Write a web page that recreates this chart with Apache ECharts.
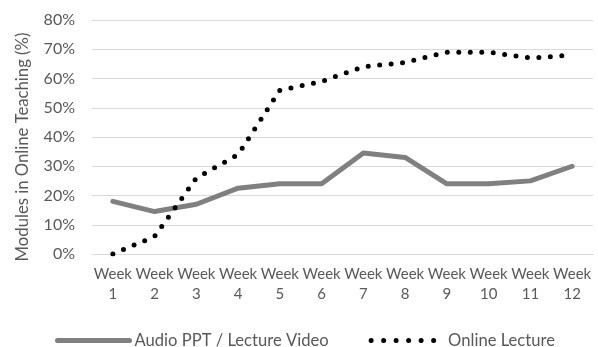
<!DOCTYPE html>
<html>
<head>
<meta charset="utf-8">
<script src="https://cdn.jsdelivr.net/npm/echarts@6/dist/echarts.min.js"></script>
<style>
  html, body { margin: 0; padding: 0; background: #fff; }
  #chart { width: 598px; height: 347px; }
</style>
</head>
<body>
<div id="chart"></div>
<script>
// weeks and percentages
const weeks = ['Week\n1', 'Week\n2', 'Week\n3', 'Week\n4', 'Week\n5', 'Week\n6',
  'Week\n7', 'Week\n8', 'Week\n9', 'Week\n10', 'Week\n11', 'Week\n12']
const audioVideo = [18, 14.5, 17, 22.5, 24, 24, 34.5, 33, 24, 24, 25, 30]
const onlineLecture = [0, 6, 26, 34, 56, 59, 64, 65.5, 69, 69, 67, 68]
const yTicks = [0, 10, 20, 30, 40, 50, 60, 70, 80]

const font = 'Lato'
const textColor = '#595959'
const solidStyle = { color: '#808080', width: 5, join: 'round', cap: 'round' }
const dottedStyle = { color: '#000', width: 5, type: [0, 11.5], cap: 'round' }

const chart = echarts.init(document.getElementById('chart'))
chart.setOption({
  animation: false,
  backgroundColor: '#fff',
  grid: {
    left: 92,
    right: 5,
    top: 20,
    bottom: 93
  },
  // axis title, placed by hand because it sits a little below the grid centre
  graphic: [{
    type: 'text',
    x: 23,
    y: 147,
    rotation: Math.PI / 2,
    style: {
      text: 'Modules in Online Teaching (%)',
      fill: textColor,
      font: '16.7px Lato',
      align: 'center',
      verticalAlign: 'middle'
    }
  }],
  legend: {
    top: 327,
    left: 50,
    itemWidth: 72,
    itemHeight: 14,
    itemGap: 40,
    itemStyle: { opacity: 0 },
    textStyle: { color: textColor, fontFamily: font, fontSize: 16.6 },
    data: [
      { name: 'Audio PPT / Lecture Video', lineStyle: solidStyle },
      { name: 'Online Lecture', lineStyle: { color: '#000', width: 5, type: [0, 12.5], cap: 'round' } }
    ]
  },
  xAxis: {
    type: 'category',
    data: weeks,
    boundaryGap: true,
    axisTick: { show: false },
    axisLine: { lineStyle: { color: '#d9d9d9', width: 1 } },
    axisLabel: {
      color: textColor,
      fontFamily: font,
      fontSize: 15,
      lineHeight: 20,
      margin: 10,
      interval: 0
    }
  },
  yAxis: {
    type: 'value',
    min: yTicks[0],
    max: yTicks[yTicks.length - 1],
    interval: 10,
    axisLine: { show: false },
    axisTick: { show: false },
    splitLine: { lineStyle: { color: '#d9d9d9', width: 1 } },
    axisLabel: {
      color: textColor,
      fontFamily: font,
      fontSize: 16,
      margin: 17,
      formatter: '{value}%'
    }
  },
  series: [
    {
      name: 'Audio PPT / Lecture Video',
      type: 'line',
      data: audioVideo,
      symbol: 'none',
      itemStyle: { color: '#808080' },
      lineStyle: solidStyle
    },
    {
      name: 'Online Lecture',
      type: 'line',
      data: onlineLecture,
      symbol: 'none',
      itemStyle: { color: '#000' },
      lineStyle: dottedStyle
    }
  ]
})
</script>
</body>
</html>
